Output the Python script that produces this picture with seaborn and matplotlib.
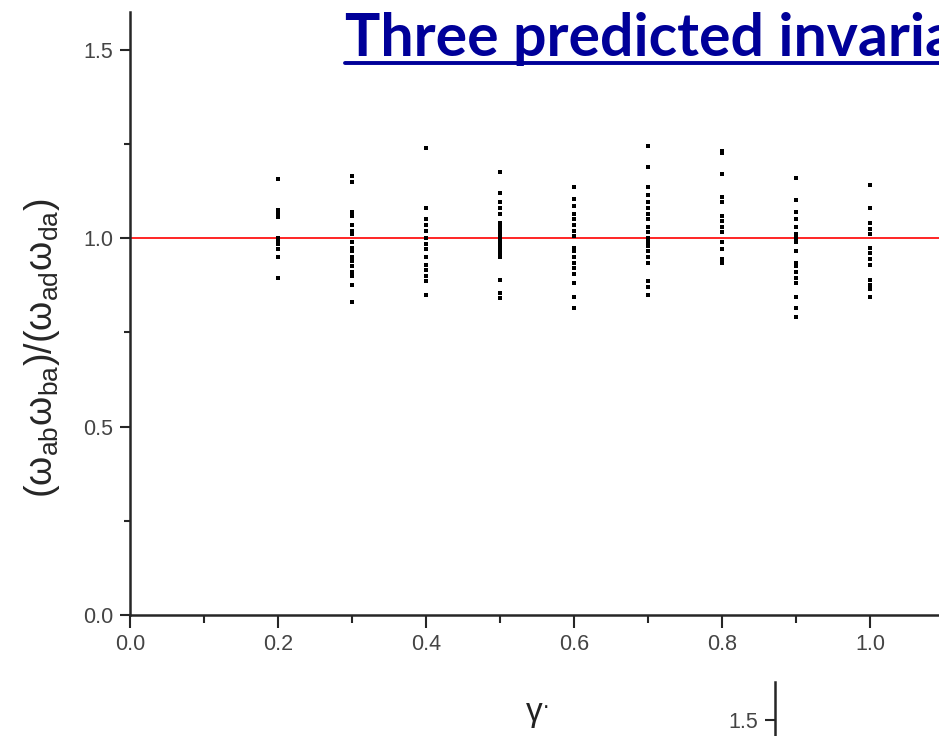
import pandas as pd
import seaborn as sns
import matplotlib.pyplot as plt
from matplotlib.ticker import MultipleLocator
from matplotlib.lines import Line2D

# values, one list per gamma column
gamma_02 = [1.157, 1.075, 1.065, 1.055, 1.0, 0.995, 0.985, 0.97, 0.95, 0.894]
gamma_03 = [1.165, 1.15, 1.07, 1.06, 1.035, 1.02, 1.01, 0.99, 0.975, 0.965,
            0.95, 0.94, 0.925, 0.91, 0.9, 0.875, 0.83]
gamma_04 = [1.24, 1.08, 1.05, 1.035, 1.02, 1.0, 0.985, 0.97, 0.95, 0.93,
            0.915, 0.9, 0.885, 0.85]
gamma_05 = [1.175, 1.12, 1.095, 1.08, 1.065, 1.04, 1.03, 1.02, 1.01, 1.0,
            0.99, 0.98, 0.97, 0.96, 0.95, 0.89, 0.855, 0.84]
gamma_06 = [1.135, 1.105, 1.085, 1.065, 1.05, 1.035, 1.02, 1.005, 0.975, 0.965,
            0.95, 0.935, 0.92, 0.905, 0.88, 0.845, 0.815]
gamma_07 = [1.245, 1.19, 1.135, 1.115, 1.095, 1.08, 1.065, 1.05, 1.03, 1.015,
            1.0, 0.99, 0.98, 0.965, 0.95, 0.935, 0.885, 0.87, 0.85]
gamma_08 = [1.23, 1.225, 1.17, 1.11, 1.095, 1.06, 1.045, 1.03, 1.015, 0.99,
            0.97, 0.945, 0.935]
gamma_09 = [1.16, 1.1, 1.07, 1.05, 1.03, 1.01, 1.0, 0.99, 0.965, 0.935,
            0.925, 0.91, 0.895, 0.88, 0.845, 0.815, 0.79]
gamma_10 = [1.14, 1.08, 1.04, 1.025, 1.01, 0.975, 0.96, 0.945, 0.93, 0.89,
            0.875, 0.865, 0.845]

gammas = [0.2, 0.3, 0.4, 0.5, 0.6, 0.7, 0.8, 0.9, 1.0]
columns = [gamma_02, gamma_03, gamma_04, gamma_05, gamma_06,
           gamma_07, gamma_08, gamma_09, gamma_10]
reference_ratio = 1.0

title_text = 'Three predicted invaria'
ylabel_text = r'$(\omega_{ab}\omega_{ba})/(\omega_{ad}\omega_{da})$'
xlabel_text = r'$\gamma^{.}$'

# long table for seaborn
rows = []
for g, vals in zip(gammas, columns):
    for v in vals:
        rows.append({'gamma': g, 'ratio': v})
df = pd.DataFrame(rows)

sns.set_style('ticks')
plt.rcParams['font.family'] = ['Liberation Sans', 'DejaVu Sans']
plt.rcParams['mathtext.fontset'] = 'custom'
plt.rcParams['mathtext.rm'] = 'Liberation Sans'
plt.rcParams['mathtext.it'] = 'Liberation Sans'
plt.rcParams['mathtext.default'] = 'regular'

fig = plt.figure(figsize=(9.39, 7.36), dpi=100)
ax = fig.add_axes([130 / 939, 1 - 615 / 736, 1 - 130 / 939, 603 / 736])

sns.scatterplot(data=df, x='gamma', y='ratio', marker='s', s=12,
                color='black', linewidth=0, ax=ax, zorder=3)
ax.axhline(reference_ratio, color='red', lw=1.2, zorder=2)

ax.set_xlim(0, 1.093)
ax.set_ylim(0, 1.6)
ax.xaxis.set_major_locator(MultipleLocator(0.2))
ax.xaxis.set_minor_locator(MultipleLocator(0.1))
ax.yaxis.set_major_locator(MultipleLocator(0.5))
ax.yaxis.set_minor_locator(MultipleLocator(0.25))
ax.xaxis.set_major_formatter(plt.FormatStrFormatter('%.1f'))
ax.yaxis.set_major_formatter(plt.FormatStrFormatter('%.1f'))
ax.tick_params(axis='both', which='major', direction='out', width=1.5,
               labelsize=15.5, labelcolor='#444444')
ax.tick_params(axis='x', which='major', length=9, pad=5)
ax.tick_params(axis='y', which='major', length=7, pad=5)
ax.tick_params(axis='x', which='minor', length=6, width=1.5)
ax.tick_params(axis='y', which='minor', length=4, width=1.5)
for side in ['top', 'right']:
    ax.spines[side].set_visible(False)
for side in ['left', 'bottom']:
    ax.spines[side].set_linewidth(1.8)
ax.set_xlabel('')
ax.set_ylabel('')

fig.text(42 / 939, 1 - 348 / 736, ylabel_text, rotation=90,
         ha='center', va='center', fontsize=27)
fig.text(537 / 939, 1 - 714 / 736, xlabel_text, ha='center', va='center',
         fontsize=24, color='#222222')

# slide title, cut off at the right edge
fig.text(345 / 939, 1 - 56 / 736, title_text, ha='left', va='baseline',
         fontsize=42.5, fontweight='bold', color='#000099',
         family=['Lato', 'DejaVu Sans'])
fig.add_artist(Line2D([345 / 939, 1.0], [1 - 63 / 736, 1 - 63 / 736],
                      color='#000099', lw=2.8))

# start of the next chart peeking in at the bottom
ax2 = fig.add_axes([775 / 939, 1 - 682 / 736 - 603 / 736, 0.3, 603 / 736])
ax2.set_ylim(0, 1.6)
ax2.set_xlim(0, 1)
ax2.set_yticks([1.5])
ax2.yaxis.set_major_formatter(plt.FormatStrFormatter('%.1f'))
ax2.set_xticks([])
ax2.tick_params(axis='y', direction='out', length=7, width=1.5,
                labelsize=15.5, labelcolor='#444444', pad=5)
for side in ['top', 'right', 'bottom']:
    ax2.spines[side].set_visible(False)
ax2.spines['left'].set_linewidth(1.8)
ax2.patch.set_alpha(0)

fig.savefig('out.png', dpi=100)
